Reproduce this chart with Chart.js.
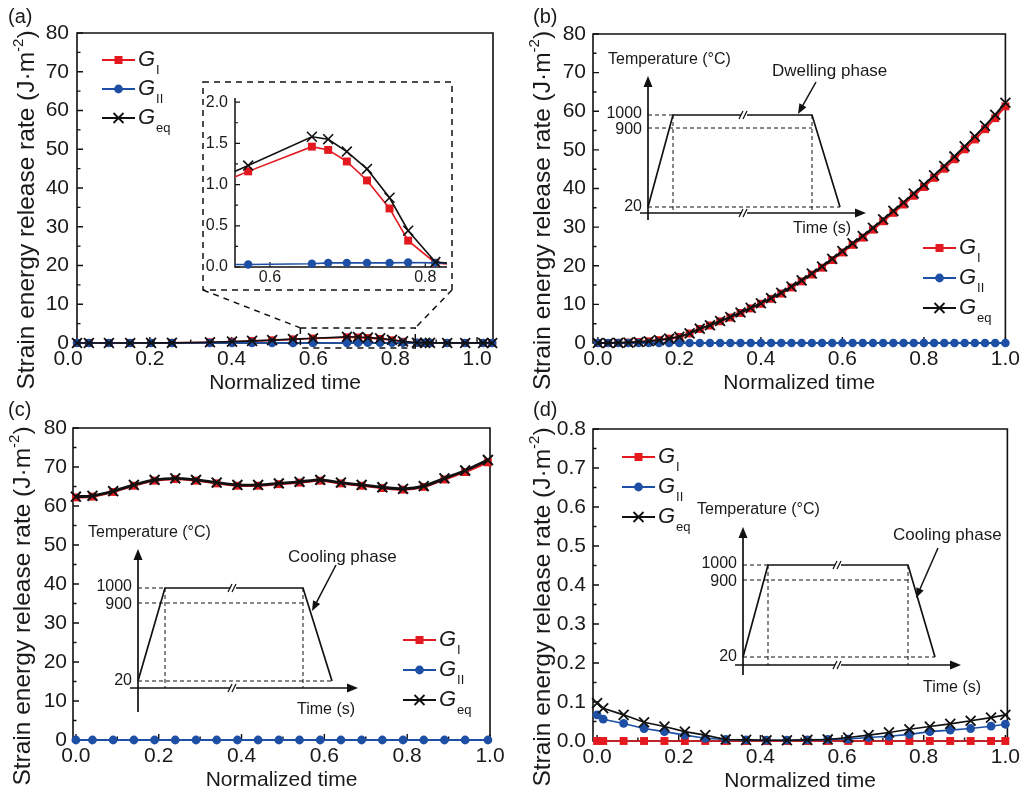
<!DOCTYPE html>
<html><head><meta charset="utf-8">
<script src="https://cdn.jsdelivr.net/npm/chart.js@4.4.0/dist/chart.umd.min.js"></script>
<style>
html,body{margin:0;padding:0;background:#fff;}
#wrap{position:relative;width:1024px;height:792px;overflow:hidden;background:#fff;}
canvas{position:absolute;}
</style></head><body>
<div id="wrap">
<canvas id="ca"></canvas>
<canvas id="cb"></canvas>
<canvas id="cc"></canvas>
<canvas id="cd"></canvas>
<canvas id="ci"></canvas>
</div>
<script>
// ---------------- data ----------------
const seriesSubs = ['I', 'II', 'eq'];           // G_I, G_II, G_eq
const xTickLabels = [0, 0.2, 0.4, 0.6, 0.8, 1.0];
const xMinorTicks = [0.1, 0.3, 0.5, 0.7, 0.9];
const yTicksMain = [0, 10, 20, 30, 40, 50, 60, 70, 80];
const yMinorMain = [5, 15, 25, 35, 45, 55, 65, 75];
const yTicksD = [0, 0.1, 0.2, 0.3, 0.4, 0.5, 0.6, 0.7, 0.8];
const yMinorD = [0.05, 0.15, 0.25, 0.35, 0.45, 0.55, 0.65, 0.75];
const insetXTicks = [0.6, 0.8];
const insetXMinor = [0.7];
const insetYTicks = [0, 0.5, 1.0, 1.5, 2.0];
const insetYMinor = [0.25, 0.75, 1.25, 1.75];

// (a) heating phase
const timeA = [0.022,0.051,0.1,0.152,0.203,0.254,0.347,0.401,0.45,0.499,0.55,0.599,0.682,0.709,0.733,0.763,0.792,0.819,0.853,0.873,0.885,0.927,0.971,1.015,1.037];
const gIA   = [0,0,0,0,0.02,0.05,0.18,0.32,0.5,0.7,0.94,1.16,1.46,1.42,1.28,1.05,0.71,0.32,0.05,0.02,0.01,0,0,0,0];
const gIIA  = [0,0,0,0,0,0.01,0.01,0.02,0.02,0.02,0.03,0.03,0.04,0.05,0.05,0.05,0.05,0.055,0.05,0.04,0.02,0.01,0,0,0];
const gEqA  = [0,0,0,0,0.02,0.05,0.2,0.35,0.55,0.75,1.0,1.23,1.58,1.55,1.4,1.19,0.84,0.44,0.06,0.03,0.02,0.01,0.01,0.01,0.01];
// (a) inset (zoomed)
const timeAI = [0.52,0.572,0.654,0.675,0.699,0.725,0.754,0.778,0.813,0.85];
const gIAI   = [0.96,1.16,1.46,1.42,1.28,1.05,0.71,0.32,0.05,0.02];
const gIIAI  = [0.03,0.03,0.04,0.05,0.05,0.05,0.05,0.055,0.05,0.04];
const gEqAI  = [1.02,1.23,1.58,1.55,1.4,1.19,0.84,0.44,0.06,0.03];

// (b) dwelling phase
const timeB = [0,0.025,0.05,0.075,0.1,0.125,0.15,0.175,0.2,0.225,0.25,0.275,0.3,0.325,0.35,0.375,0.4,0.425,0.45,0.475,0.5,0.525,0.55,0.575,0.6,0.625,0.65,0.675,0.7,0.725,0.75,0.775,0.8,0.825,0.85,0.875,0.9,0.925,0.95,0.975,1.0];
const gIB   = [0,0,0.05,0.1,0.24,0.44,0.74,1.13,1.57,2.46,3.64,4.53,5.62,6.6,7.78,8.96,10.15,11.43,12.8,14.38,15.96,17.73,19.5,21.47,23.44,25.41,27.28,29.35,31.52,33.69,35.85,38.12,40.39,42.75,45.11,47.58,50.14,52.7,55.36,58.21,61.27];
const gIIB  = [0,0,0,0,0,0,0,0,0,0,0,0,0,0,0,0,0,0,0,0,0,0,0,0,0,0,0,0,0,0,0,0,0,0,0,0,0,0,0,0,0];
const gEqB  = [0,0,0.05,0.1,0.25,0.45,0.75,1.15,1.6,2.5,3.7,4.6,5.7,6.7,7.9,9.1,10.3,11.6,13.0,14.6,16.2,18.0,19.8,21.8,23.8,25.8,27.7,29.8,32.0,34.2,36.4,38.7,41.0,43.4,45.8,48.3,50.9,53.5,56.2,59.1,62.2];

// (c) cooling phase
const timeC = [0,0.04,0.09,0.14,0.19,0.24,0.29,0.34,0.39,0.44,0.49,0.54,0.59,0.64,0.69,0.74,0.79,0.84,0.89,0.94,0.995];
const gIC   = [62.2,62.4,63.6,65.2,66.5,66.9,66.5,65.8,65.2,65.2,65.6,66.0,66.5,65.8,65.2,64.6,64.2,64.9,66.8,68.7,71.2];
const gIIC  = [0,0,0,0,0,0,0,0,0,0,0,0,0,0,0,0,0,0,0,0,0];
const gEqC  = [62.4,62.6,63.8,65.4,66.7,67.1,66.7,66.0,65.4,65.4,65.8,66.2,66.7,66.0,65.4,64.8,64.4,65.1,67.1,69.1,71.8];

// (d) cooling phase (small scale)
const timeD = [0,0.015,0.065,0.115,0.165,0.215,0.265,0.315,0.365,0.415,0.465,0.515,0.565,0.615,0.665,0.715,0.765,0.815,0.865,0.915,0.965,1.0];
const gID   = [0,0,0,0,0,0,0,0,0,0,0,0,0,0,0,0,0,0,0,0,0,0];
const gIID  = [0.067,0.056,0.045,0.032,0.024,0.015,0.007,0.004,0.003,0.002,0.002,0.003,0.004,0.005,0.009,0.012,0.017,0.024,0.028,0.032,0.038,0.043];
const gEqD  = [0.097,0.084,0.067,0.048,0.037,0.024,0.015,0.004,0.003,0.002,0.002,0.003,0.004,0.009,0.015,0.022,0.03,0.037,0.044,0.052,0.06,0.067];

// ---------------- styles ----------------
const FONT = "'Liberation Sans', Arial, Helvetica, sans-serif";
const RED = '#e3191f', BLUE = '#1d4fa4', BLACK = '#111111', TXT = '#1a1a1a';
const TICK_FS = 21;

function toPts(xs, ys) { return xs.map((x, i) => ({x: x, y: ys[i]})); }

function series(xs, gI, gII, gEq, sz) {
  const base = {tension: sz.t || 0, clip: sz.clip === undefined ? false : sz.clip, showLine: true, fill: false};
  return [
    Object.assign({label: 'G' + seriesSubs[0], data: toPts(xs, gI), borderColor: RED, backgroundColor: RED, pointStyle: 'rect', pointRadius: sz.r, pointHoverRadius: sz.r, pointBorderWidth: 0, borderWidth: sz.lw, order: 3}, base),
    Object.assign({label: 'G' + seriesSubs[1], data: toPts(xs, gII), borderColor: BLUE, backgroundColor: BLUE, pointStyle: 'circle', pointRadius: sz.c, pointHoverRadius: sz.c, pointBorderWidth: 0, borderWidth: sz.lw, order: 2}, base),
    Object.assign({label: 'G' + seriesSubs[2], data: toPts(xs, gEq), borderColor: BLACK, backgroundColor: BLACK, pointStyle: 'crossRot', pointRadius: sz.x, pointHoverRadius: sz.x, pointBorderWidth: sz.xb, borderWidth: sz.lw2 || sz.lw, order: 1}, base)
  ];
}

function axes(p) {
  const mk = (min, max, labs, fmt, pad, fit) => ({
    type: 'linear', min: min, max: max,
    grid: {display: false, drawTicks: false, tickLength: 0},
    border: {display: false},
    ticks: {autoSkip: false, maxRotation: 0, padding: pad, color: TXT, font: {family: FONT, size: p.fs}, callback: fmt},
    afterBuildTicks: s => { s.ticks = labs.map(v => ({value: v})); },
    afterFit: fit
  });
  return {
    x: mk(p.xmin, p.xmax, p.xLab, v => v.toFixed(1), p.xpad, s => { s.height = p.xh; }),
    y: mk(p.ymin, p.ymax, p.yLab, p.yfmt, p.ypad, s => { s.width = p.yw; })
  };
}

function framePlugin(f) {
  return {id: 'frame', beforeDatasetsDraw(chart) {
    const ctx = chart.ctx, a = chart.chartArea, x = chart.scales.x, y = chart.scales.y;
    ctx.save();
    ctx.strokeStyle = '#111'; ctx.lineWidth = f.lw;
    ctx.beginPath();
    if (f.box) ctx.rect(a.left, a.top, a.right - a.left, a.bottom - a.top);
    else { ctx.moveTo(a.left, a.top); ctx.lineTo(a.left, a.bottom); ctx.lineTo(a.right, a.bottom); }
    ctx.stroke();
    ctx.lineWidth = f.tw;
    ctx.beginPath();
    const inX = v => v >= x.min - 1e-9 && v <= x.max + 1e-9;
    const inY = v => v >= y.min - 1e-9 && v <= y.max + 1e-9;
    f.xMaj.forEach(v => { if (!inX(v)) return; const px = x.getPixelForValue(v); ctx.moveTo(px, a.bottom); ctx.lineTo(px, a.bottom - f.maj); });
    f.xMin.forEach(v => { if (!inX(v)) return; const px = x.getPixelForValue(v); ctx.moveTo(px, a.bottom); ctx.lineTo(px, a.bottom - f.min); });
    f.yMaj.forEach(v => { if (!inY(v)) return; const py = y.getPixelForValue(v); ctx.moveTo(a.left, py); ctx.lineTo(a.left + f.maj, py); });
    f.yMin.forEach(v => { if (!inY(v)) return; const py = y.getPixelForValue(v); ctx.moveTo(a.left, py); ctx.lineTo(a.left + f.min, py); });
    ctx.stroke();
    ctx.restore();
  }};
}

// ---------- drawing helpers for texts / schematic ----------
function drawMarker(ctx, style, x, y, c) {
  ctx.save();
  ctx.fillStyle = c; ctx.strokeStyle = c;
  if (style === 'rect') { ctx.fillRect(x - 4, y - 4, 8, 8); }
  else if (style === 'circle') { ctx.beginPath(); ctx.arc(x, y, 4.4, 0, Math.PI * 2); ctx.fill(); }
  else { ctx.lineWidth = 1.8; ctx.beginPath(); ctx.moveTo(x - 5, y - 5); ctx.lineTo(x + 5, y + 5); ctx.moveTo(x - 5, y + 5); ctx.lineTo(x + 5, y - 5); ctx.stroke(); }
  ctx.restore();
}
function drawLegend(ctx, x, y0, dy) {
  const cols = [RED, BLUE, BLACK], styles = ['rect', 'circle', 'crossRot'];
  seriesSubs.forEach((sub, i) => {
    const y = y0 + i * dy;
    ctx.save();
    ctx.strokeStyle = cols[i]; ctx.lineWidth = 2;
    ctx.beginPath(); ctx.moveTo(x, y); ctx.lineTo(x + 33, y); ctx.stroke();
    drawMarker(ctx, styles[i], x + 16.5, y, cols[i]);
    ctx.fillStyle = TXT; ctx.textAlign = 'left'; ctx.textBaseline = 'middle';
    ctx.font = 'italic 22px ' + FONT;
    ctx.fillText('G', x + 36, y);
    const w = ctx.measureText('G').width;
    ctx.font = '13px ' + FONT;
    ctx.fillText(sub, x + 36 + w + 1, y + 10);
    ctx.restore();
  });
}
function drawYTitle(ctx, cx, cy) {
  ctx.save();
  ctx.translate(cx, cy); ctx.rotate(-Math.PI / 2);
  const main = 'Strain energy release rate (J\u00b7m', sup = '-2', end = ')';
  const f1 = '24.5px ' + FONT, f2 = '15px ' + FONT;
  ctx.font = f1; const w1 = ctx.measureText(main).width, w3 = ctx.measureText(end).width;
  ctx.font = f2; const w2 = ctx.measureText(sup).width;
  let x = -(w1 + w2 + w3) / 2;
  ctx.fillStyle = TXT; ctx.textBaseline = 'middle'; ctx.textAlign = 'left';
  ctx.font = f1; ctx.fillText(main, x, 0); x += w1;
  ctx.font = f2; ctx.fillText(sup, x, -8); x += w2;
  ctx.font = f1; ctx.fillText(end, x, 0);
  ctx.restore();
}
function drawText(ctx, t, x, y, size, align, style) {
  ctx.save();
  ctx.font = (style ? style + ' ' : '') + size + 'px ' + FONT;
  ctx.fillStyle = TXT; ctx.textAlign = align || 'left'; ctx.textBaseline = 'middle';
  ctx.fillText(t, x, y);
  ctx.restore();
}
function arrowHead(ctx, x, y, dx, dy, L, W) {
  const n = Math.hypot(dx, dy); dx /= n; dy /= n;
  const bx = x - dx * L, by = y - dy * L, px = -dy, py = dx;
  ctx.beginPath(); ctx.moveTo(x, y); ctx.lineTo(bx + px * W, by + py * W); ctx.lineTo(bx - px * W, by - py * W); ctx.closePath(); ctx.fill();
}
function seg(ctx, x1, y1, x2, y2) { ctx.beginPath(); ctx.moveTo(x1, y1); ctx.lineTo(x2, y2); ctx.stroke(); }
function breakMark(ctx, bx, y) {
  ctx.save();
  ctx.fillStyle = '#fff'; ctx.fillRect(bx - 3, y - 3, 6, 6);
  ctx.strokeStyle = '#111'; ctx.lineWidth = 1.2;
  seg(ctx, bx - 5, y + 4, bx - 1, y - 4);
  seg(ctx, bx - 1, y + 4, bx + 3, y - 4);
  ctx.restore();
}
function drawTemp(ctx, d) {
  ctx.save();
  ctx.strokeStyle = '#111'; ctx.fillStyle = '#111';
  // dashed guides
  ctx.lineWidth = 1; ctx.setLineDash([4, 3]);
  seg(ctx, d.axX, d.y1000, d.xTop1, d.y1000);
  seg(ctx, d.axX, d.y900, d.xTop2, d.y900);
  seg(ctx, d.axX, d.y20, d.xBot2, d.y20);
  seg(ctx, d.xTop1, d.y1000, d.xTop1, d.hY);
  seg(ctx, d.xTop2, d.y1000, d.xTop2, d.hY);
  ctx.setLineDash([]);
  // axes
  ctx.lineWidth = 1.7;
  seg(ctx, d.axX, d.axBottom, d.axX, d.axTop + 6);
  arrowHead(ctx, d.axX, d.axTop, 0, -1, 11, 4.5);
  seg(ctx, d.hLeft, d.hY, d.hRight - 6, d.hY);
  arrowHead(ctx, d.hRight, d.hY, 1, 0, 11, 4.5);
  // temperature path
  ctx.beginPath(); ctx.moveTo(d.axX, d.y20); ctx.lineTo(d.xTop1, d.y1000); ctx.lineTo(d.xTop2, d.y1000); ctx.lineTo(d.xBot2, d.y20); ctx.stroke();
  breakMark(ctx, d.breakX, d.y1000);
  breakMark(ctx, d.breakX, d.hY);
  // phase arrow
  ctx.lineWidth = 1.5;
  seg(ctx, d.ar[0], d.ar[1], d.ar[2] - (d.ar[2] - d.ar[0]) * 0.15, d.ar[3] - (d.ar[3] - d.ar[1]) * 0.15);
  arrowHead(ctx, d.ar[2], d.ar[3], d.ar[2] - d.ar[0], d.ar[3] - d.ar[1], 10, 4);
  ctx.restore();
  drawText(ctx, 'Temperature (\u00b0C)', d.tl[0], d.tl[1], 16, 'left');
  drawText(ctx, '1000', d.labR, d.y1000 - 1, 16, 'right');
  drawText(ctx, '900', d.labR, d.y900 + 2, 16, 'right');
  drawText(ctx, '20', d.labR, d.y20, 16, 'right');
  drawText(ctx, d.phase, d.ph[0], d.ph[1], 17, 'left');
  drawText(ctx, 'Time (s)', d.tm[0], d.tm[1], 16, 'left');
}

// ---------------- chart factory ----------------
function makeChart(id, offX, offY, W, H, area, ds, sc, frame, deco) {
  const cv = document.getElementById(id);
  cv.width = W; cv.height = H; cv.style.left = offX + 'px'; cv.style.top = offY + 'px';
  const pad = {left: area.L - offX - sc.yw, right: offX + W - area.R, top: area.T - offY, bottom: offY + H - area.B - sc.xh};
  return new Chart(cv.getContext('2d'), {
    type: 'scatter',
    data: {datasets: ds},
    options: {
      responsive: false, animation: false, events: [], devicePixelRatio: 1,
      layout: {padding: pad},
      plugins: {legend: {display: false}, tooltip: {enabled: false}},
      scales: axes(sc)
    },
    plugins: [framePlugin(frame), {id: 'deco', afterDraw(chart) {
      const c = chart.ctx; c.save(); c.translate(-offX, -offY); deco(c, chart, offX, offY); c.restore();
    }}]
  });
}

const mainFrame = (yMaj, yMin) => ({box: true, lw: 1.6, tw: 1.4, maj: 6, min: 3.5, xMaj: xTickLabels, xMin: xMinorTicks, yMaj: yMaj, yMin: yMin});
const intFmt = v => String(Math.round(v));
const decFmt = v => v.toFixed(1);

function titles(ctx, chart, offX, offY, label, lx, ly) {
  const a = chart.chartArea;
  const L = a.left + offX, R = a.right + offX, T = a.top + offY, B = a.bottom + offY;
  drawText(ctx, 'Normalized time', (L + R) / 2, B + 40, 21, 'center');
  drawYTitle(ctx, L - 50, (T + B) / 2 + 22);
  drawText(ctx, label, lx, ly, 20, 'left');
}

// (a)
makeChart('ca', 0, 0, 512, 396, {L: 77, R: 493, T: 33, B: 343},
  series(timeA, gIA, gIIA, gEqA, {r: 5.6, c: 4.3, x: 7, xb: 1.8, lw: 1.7}),
  {xmin: 0.022, xmax: 1.039, ymin: 0, ymax: 80, xLab: xTickLabels, yLab: yTicksMain, yfmt: intFmt, fs: TICK_FS, xpad: 4, ypad: 8, yw: 40, xh: 30},
  mainFrame(yTicksMain, yMinorMain),
  (ctx, chart, ox, oy) => {
    titles(ctx, chart, ox, oy, '(a)', 8, 17);
    drawLegend(ctx, 102, 60, 29);
    // zoom indicator
    const x = chart.scales.x, y = chart.scales.y;
    const zx1 = x.getPixelForValue(0.568) + ox, zx2 = x.getPixelForValue(0.849) + ox;
    const zy1 = y.getPixelForValue(3.9) + oy, zy2 = y.getPixelForValue(-1.3) + oy;
    ctx.save();
    ctx.strokeStyle = '#111'; ctx.lineWidth = 1.5; ctx.setLineDash([6, 5]);
    ctx.strokeRect(zx1, zy1, zx2 - zx1, zy2 - zy1);
    ctx.strokeRect(203, 82, 249, 208);
    seg(ctx, 203, 290, zx1, zy1);
    seg(ctx, 452, 290, zx2, zy1);
    ctx.restore();
  });

// (a) inset
makeChart('ci', 195, 75, 265, 225, {L: 235, R: 447, T: 98, B: 267},
  series(timeAI, gIAI, gIIAI, gEqAI, {r: 5.6, c: 4.2, x: 7, xb: 1.6, lw: 1.6, clip: {left: 0, top: 6, right: 0, bottom: 6}}),
  {xmin: 0.555, xmax: 0.828, ymin: 0, ymax: 2.05, xLab: insetXTicks, yLab: insetYTicks, yfmt: decFmt, fs: 16, xpad: 1, ypad: 7, yw: 32, xh: 22},
  {box: false, lw: 1.5, tw: 1.2, maj: 5, min: 3, xMaj: insetXTicks, xMin: insetXMinor, yMaj: insetYTicks, yMin: insetYMinor},
  () => {});

// (b)
makeChart('cb', 512, 0, 512, 396, {L: 593, R: 1010, T: 34, B: 343},
  series(timeB, gIB, gIIB, gEqB, {r: 5.6, c: 4.3, x: 7, xb: 1.8, lw: 2}),
  {xmin: -0.012, xmax: 1.0, ymin: 0, ymax: 80, xLab: xTickLabels, yLab: yTicksMain, yfmt: intFmt, fs: TICK_FS, xpad: 4, ypad: 7, yw: 40, xh: 30},
  mainFrame(yTicksMain, yMinorMain),
  (ctx, chart, ox, oy) => {
    titles(ctx, chart, ox, oy, '(b)', 533, 17);
    drawLegend(ctx, 923, 248, 30);
    drawTemp(ctx, {axX: 648, axTop: 76, axBottom: 220, hY: 213, hLeft: 640, hRight: 866,
      y1000: 115, y900: 128, y20: 207, xTop1: 673, xTop2: 812, xBot2: 840, breakX: 744,
      tl: [608, 60], labR: 642, phase: 'Dwelling phase', ph: [772, 71], ar: [816, 82, 798, 114], tm: [793, 229]});
  });

// (c)
makeChart('cc', 0, 396, 512, 396, {L: 73, R: 490, T: 428, B: 740},
  series(timeC, gIC, gIIC, gEqC, {r: 5.6, c: 4.4, x: 7, xb: 2, lw: 2.2, lw2: 2.8, t: 0.3}),
  {xmin: -0.007, xmax: 1.0, ymin: 0, ymax: 80, xLab: xTickLabels, yLab: yTicksMain, yfmt: intFmt, fs: TICK_FS, xpad: 4, ypad: 6, yw: 40, xh: 30},
  mainFrame(yTicksMain, yMinorMain),
  (ctx, chart, ox, oy) => {
    titles(ctx, chart, ox, oy, '(c)', 8, 410);
    drawLegend(ctx, 403, 640, 30);
    drawTemp(ctx, {axX: 138, axTop: 549, axBottom: 712, hY: 688, hLeft: 130, hRight: 358,
      y1000: 588, y900: 603, y20: 681, xTop1: 165, xTop2: 303, xBot2: 332, breakX: 233,
      tl: [88, 533], labR: 132, phase: 'Cooling phase', ph: [288, 557], ar: [336, 565, 312, 611], tm: [297, 710]});
  });

// (d)
makeChart('cd', 512, 396, 512, 396, {L: 593, R: 1012, T: 429, B: 741},
  series(timeD, gID, gIID, gEqD, {r: 5.6, c: 4.4, x: 7, xb: 1.8, lw: 1.6}),
  {xmin: -0.01, xmax: 1.005, ymin: 0, ymax: 0.8, xLab: xTickLabels, yLab: yTicksD, yfmt: decFmt, fs: TICK_FS, xpad: 4, ypad: 7, yw: 40, xh: 30},
  mainFrame(yTicksD, yMinorD),
  (ctx, chart, ox, oy) => {
    titles(ctx, chart, ox, oy, '(d)', 533, 410);
    drawLegend(ctx, 622, 457, 30);
    drawTemp(ctx, {axX: 743, axTop: 527, axBottom: 675, hY: 665, hLeft: 735, hRight: 961,
      y1000: 565, y900: 580, y20: 657, xTop1: 768, xTop2: 908, xBot2: 935, breakX: 838,
      tl: [697, 510], labR: 737, phase: 'Cooling phase', ph: [893, 535], ar: [938, 548, 916, 598], tm: [923, 688]});
  });
</script>
</body></html>
